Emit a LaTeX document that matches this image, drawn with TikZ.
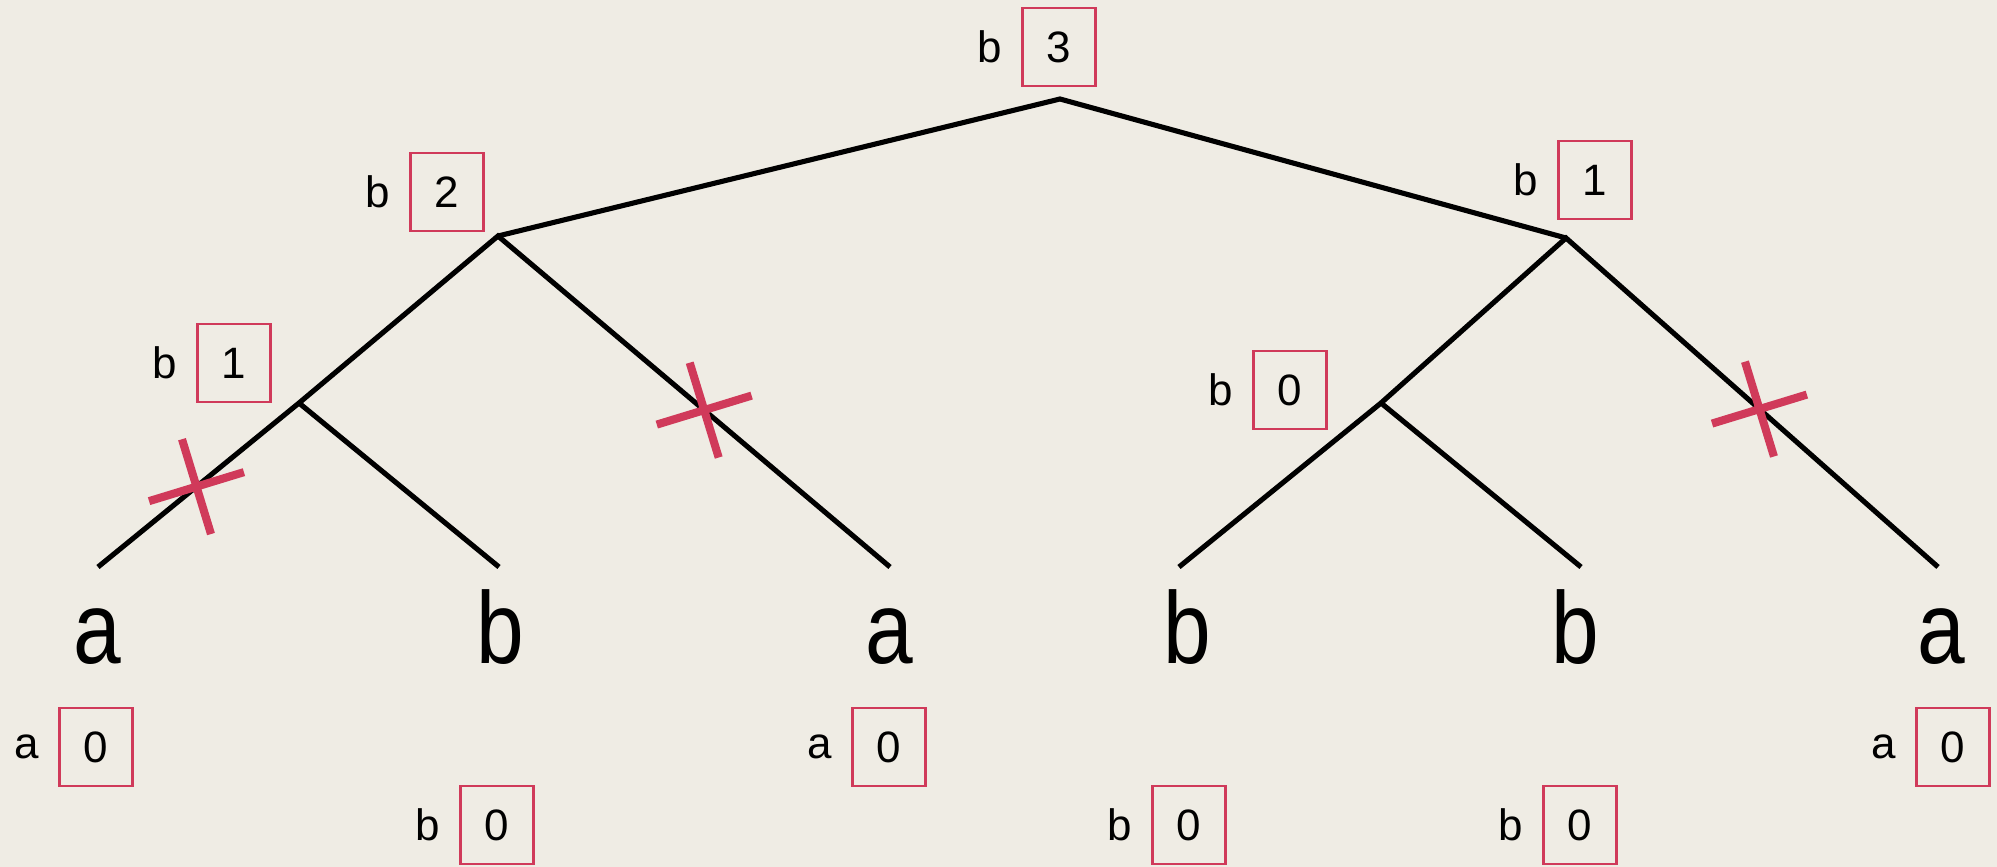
\documentclass[tikz,border=0pt]{standalone}
\usepackage{fontspec}
\setmainfont{Liberation Sans}
\newfontfamily\leaffam[FakeStretch=0.84]{Liberation Sans}
\usetikzlibrary{positioning,shapes.misc}
\definecolor{slidebg}{RGB}{239,236,228}
\definecolor{cutred}{RGB}{208,58,90}
\newcommand{\leaffont}{\leaffam\fontsize{29}{35}\selectfont}
\newcommand{\scorefont}{\fontsize{12.5}{15}\selectfont}
\tikzset{
  branch/.style={line width=1.45pt},
  scorebox/.style={draw=cutred,line width=0.6pt,minimum width=0.73cm,
    minimum height=0.78cm,inner sep=0pt,font=\scorefont},
  playerlbl/.style={inner sep=0pt,font=\scorefont},
  leaflbl/.style={anchor=base,inner sep=0pt,font=\leaffont},
  cutmark/.style={cross out,draw=cutred,line width=2.3pt,line cap=butt,
    minimum size=0.62cm,inner sep=0pt,rotate=-28},
}

\begin{document}
\begin{tikzpicture}[x=0.01cm,y=-0.01cm]
  \fill[slidebg] (0,0) rectangle (1997,867);
  \useasboundingbox (0,0) rectangle (1997,867);
  % game tree
  \coordinate (root) at (1060,99);
  \coordinate (nL) at (498,236);
  \coordinate (nR) at (1566,238);
  \coordinate (nLL) at (299,403);
  \coordinate (nRL) at (1381,403);
  \foreach \i/\x in {1/98,2/499,3/890,4/1179,5/1581,6/1938}
    \coordinate (tip\i) at (\x,567);
  \draw[branch] (nL) -- (root) -- (nR);
  \draw[branch] (tip1) -- node[cutmark,pos=0.49]{} (nLL) -- (nL)
    -- node[cutmark,pos=0.526]{} (tip3);
  \draw[branch] (nLL) -- (tip2);
  \draw[branch] (tip4) -- (nRL) -- (nR) -- node[cutmark,pos=0.52]{} (tip6);
  \draw[branch] (nRL) -- (tip5);
  % leaves
  \foreach \i/\x/\c in {1/97/a,2/500/b,3/889/a,4/1187/b,5/1575/b,6/1941/a}
    \node[leaflbl] (leaf\i) at (\x,663) {\c};
  % scores
  \foreach \nm/\x/\y/\who/\val in {root/1059/47/b/3, L/447/192/b/2,
      R/1595/180/b/1, LL/234/363/b/1, RL/1290/390/b/0,
      A1/96/747/a/0, B2/497/825/b/0, A3/889/747/a/0,
      B4/1189/825/b/0, B5/1580/825/b/0, A6/1953/747/a/0} {
    \node[scorebox] (s\nm) at (\x,\y) {\val};
    \node[playerlbl,left=0.19cm of s\nm] (p\nm) {\who};
  }
\end{tikzpicture}
\end{document}
